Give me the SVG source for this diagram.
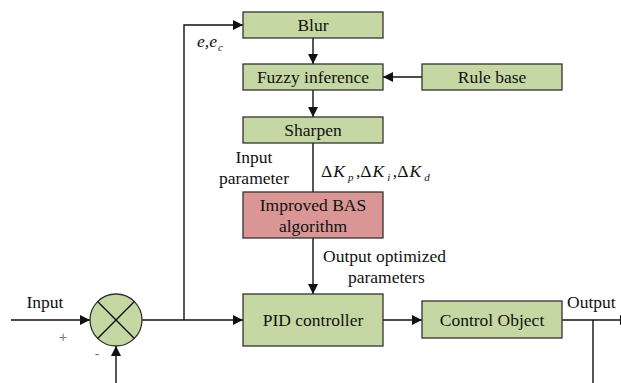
<svg xmlns="http://www.w3.org/2000/svg" width="621" height="383" viewBox="0 0 621 383">
  <style>
    .box { fill: #C5D7A2; stroke: #333; stroke-width: 1.3; }
    .alg { fill: #D99694; stroke: #333; stroke-width: 1.3; }
    text { font-family: 'Liberation Serif', 'Times New Roman', Times, 'DejaVu Serif', serif; font-size: 17.5px; fill: #111; }
    .ctr { text-anchor: middle; }
    .it { font-style: italic; }
    .sub { font-style: italic; font-size: 11px; }
    .wire { fill: none; stroke: #111; stroke-width: 1.4; }
    text.sign { font-family: 'Liberation Sans', Arial, sans-serif; font-size: 14px; fill: #777; }
  </style>
  <defs>
    <marker id="arrow" viewBox="0 0 10 10" refX="10" refY="5" markerWidth="11" markerHeight="10" markerUnits="userSpaceOnUse" orient="auto">
      <path d="M0,0 L10,5 L0,10 Z" fill="#111"/>
    </marker>
  </defs>

  <!-- connectors -->
  <g id="connectors">
    <!-- input into summing junction -->
    <line class="wire" x1="11" y1="320" x2="90" y2="320" marker-end="url(#arrow)"/>
    <!-- summing junction to PID -->
    <line class="wire" x1="142" y1="320" x2="243" y2="320" marker-end="url(#arrow)"/>
    <!-- error branch to Blur -->
    <polyline class="wire" points="184,320 184,25 243,25" marker-end="url(#arrow)"/>
    <!-- fuzzy chain -->
    <line class="wire" x1="313" y1="38" x2="313" y2="64" marker-end="url(#arrow)"/>
    <line class="wire" x1="313" y1="90" x2="313" y2="117" marker-end="url(#arrow)"/>
    <line class="wire" x1="422" y1="77" x2="383" y2="77" marker-end="url(#arrow)"/>
    <line class="wire" x1="313" y1="143" x2="313" y2="192"/>
    <line class="wire" x1="313" y1="238" x2="313" y2="294" marker-end="url(#arrow)"/>
    <!-- PID to plant -->
    <line class="wire" x1="383" y1="320" x2="422" y2="320" marker-end="url(#arrow)"/>
    <!-- output -->
    <line class="wire" x1="562" y1="320" x2="630" y2="320" marker-end="url(#arrow)"/>
    <!-- feedback -->
    <line class="wire" x1="593" y1="320" x2="593" y2="383"/>
    <line class="wire" x1="116" y1="383" x2="116" y2="346" marker-end="url(#arrow)"/>
  </g>

  <g id="sum">
    <circle cx="116" cy="320" r="26" class="box"/>
    <line class="wire" x1="97.6" y1="301.6" x2="134.4" y2="338.4"/>
    <line class="wire" x1="134.4" y1="301.6" x2="97.6" y2="338.4"/>
    <text class="sign" x="63" y="342" text-anchor="middle">+</text>
    <text class="sign" x="97" y="359" text-anchor="middle">-</text>
  </g>

  <g id="blur">
    <rect class="box" x="243" y="12" width="140" height="26"/>
    <text class="ctr" x="313" y="31">Blur</text>
  </g>
  <g id="fuzzy">
    <rect class="box" x="243" y="64" width="140" height="26"/>
    <text class="ctr" x="313" y="83">Fuzzy inference</text>
  </g>
  <g id="rulebase">
    <rect class="box" x="422" y="64" width="140" height="26"/>
    <text class="ctr" x="492" y="83">Rule base</text>
  </g>
  <g id="sharpen">
    <rect class="box" x="243" y="117" width="140" height="26"/>
    <text class="ctr" x="313" y="136">Sharpen</text>
  </g>
  <g id="bas">
    <rect class="alg" x="243" y="192" width="140" height="46"/>
    <text class="ctr" x="313" y="211">Improved BAS</text>
    <text class="ctr" x="313" y="232">algorithm</text>
  </g>
  <g id="pid">
    <rect class="box" x="243" y="294" width="140" height="52"/>
    <text class="ctr" x="313" y="326">PID controller</text>
  </g>
  <g id="plant">
    <rect class="box" x="422" y="301" width="140" height="37"/>
    <text class="ctr" x="492" y="326">Control Object</text>
  </g>

  <g id="labels">
    <text class="ctr" x="45" y="308">Input</text>
    <text x="567" y="308">Output</text>
    <text x="197" y="47" class="it">e,e<tspan class="sub" x="218" y="51">c</tspan></text>
    <text class="ctr" x="254" y="163">Input</text>
    <text class="ctr" x="254" y="184">parameter</text>
    <text x="321" y="177" font-size="20">Δ<tspan class="it" dx="1">K</tspan><tspan class="sub" font-size="12" dx="3" dy="4">p</tspan><tspan dx="2.5" dy="-4">,Δ</tspan><tspan class="it" dx="1">K</tspan><tspan class="sub" font-size="12" dx="3" dy="4">i</tspan><tspan dx="2.5" dy="-4">,Δ</tspan><tspan class="it" dx="1">K</tspan><tspan class="sub" font-size="12" dx="3" dy="4">d</tspan></text>
    <text x="323" y="262">Output optimized</text>
    <text x="348" y="283">parameters</text>
  </g>
</svg>
